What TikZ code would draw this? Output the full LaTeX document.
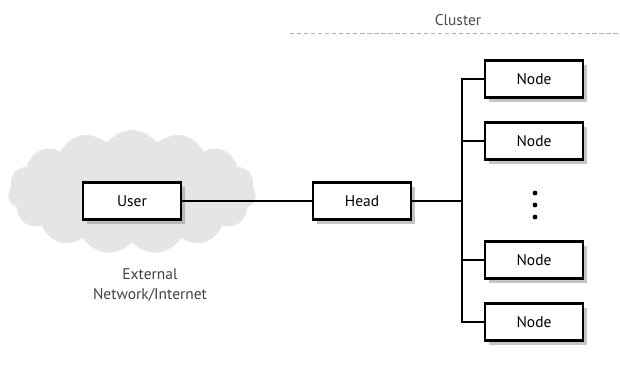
\documentclass[tikz,border=0pt]{standalone}
\usepackage{fontspec}
\setmainfont{PT Sans}
\usepackage{tikz}
\usetikzlibrary{shapes.symbols, shadows, calc}

\begin{document}
\begin{tikzpicture}[
    x=0.025cm, y=-0.025cm,
    font=\fontsize{11}{14}\selectfont,
    box/.style={rectangle, draw, line width=1.7pt, fill=white, minimum width=2.45cm, minimum height=0.93cm,
      drop shadow={shadow xshift=2.5pt, shadow yshift=-3pt, fill=black!45, opacity=0.5}},
    link/.style={line width=1.7pt},
    net/.style={cloud, cloud puffs=15, cloud puff arc=110, aspect=2.1, fill=black!10, draw=none,
      minimum width=6.2cm, minimum height=3.1cm}
  ]
    \useasboundingbox (0,0) rectangle (620,374);

    % external network
    \node[net] (cloud) at (132,192) {};
    \node[box] (user) at (132,201) {User};
    \node[align=center, text=black!75] (ext) at (150,285) {External\\Network/Internet};

    % cluster
    \node[text=black!70] (cluster) at (458,20) {Cluster};
    \draw[black!30, dash pattern=on 3pt off 2pt, line width=0.6pt] (290,33) -- (620,33);
    \node[box] (head) at (362,201) {Head};
    \coordinate (bus) at (462,201);

    \node[box] (n1) at (534,79) {Node};
    \node[box] (n2) at (534,141) {Node};
    \node[box] (n3) at (534,260) {Node};
    \node[box] (n4) at (534,322) {Node};
    \foreach \y in {193,205,217}
      \fill (535,\y) circle (2.4);

    \draw[link] (user.east) -- (head.west);
    \draw[link] (head.east) -- (bus);
    \draw[link] (n1.west) -- (n1.west -| bus) -- (n4.west -| bus) -- (n4.west);
    \draw[link] (n2.west -| bus) -- (n2.west);
    \draw[link] (n3.west -| bus) -- (n3.west);
  \end{tikzpicture}
\end{document}
